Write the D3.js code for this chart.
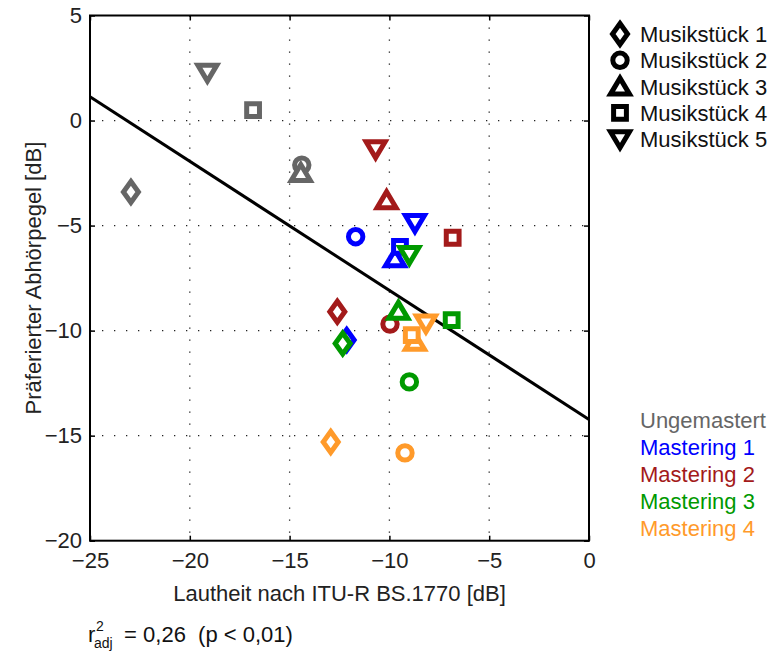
<!DOCTYPE html>
<html>
<head>
<meta charset="utf-8">
<script src="https://cdn.jsdelivr.net/npm/d3@7"></script>
<style>
  html, body { margin: 0; padding: 0; background: #fff; }
  svg text { font-family: "Liberation Sans", Arial, Helvetica, sans-serif; }
</style>
</head>
<body>
<svg id="chart" width="773" height="651"></svg>
<script>
// ---------- data ----------
const pieces = ["Musikstück 1", "Musikstück 2", "Musikstück 3", "Musikstück 4", "Musikstück 5"];
const pieceShapes = ["diamond", "circle", "triangleUp", "square", "triangleDown"];
const masterings = ["Ungemastert", "Mastering 1", "Mastering 2", "Mastering 3", "Mastering 4"];
const masteringColors = ["#666666", "#0000ff", "#a31a1a", "#009900", "#ff9a2a"];

// loudness (x, dB) per mastering, one value per piece (1..5)
const loudUngemastert = [-22.95, -14.39, -14.44, -16.83, -19.12];
const loudMastering1  = [-12.14, -11.69,  -9.72,  -9.47,  -8.72];
const loudMastering2  = [-12.61,  -9.97, -10.14,  -6.83, -10.69];
const loudMastering3  = [-12.34,  -9.00,  -9.55,  -6.88,  -9.00];
const loudMastering4  = [-12.94,  -9.22,  -8.72,  -8.88,  -8.17];

// preferred listening level (y, dB)
const prefUngemastert = [-3.40, -2.12, -2.50,  0.50,  2.28];
const prefMastering1  = [-10.45, -5.53, -6.56, -6.01, -4.88];
const prefMastering2  = [-9.10, -9.69, -3.79, -5.58, -1.37];
const prefMastering3  = [-10.61, -12.44, -9.06, -9.50, -6.40];
const prefMastering4  = [-15.30, -15.82, -10.53, -10.21, -9.66];

const loudSeries = [loudUngemastert, loudMastering1, loudMastering2, loudMastering3, loudMastering4];
const prefSeries = [prefUngemastert, prefMastering1, prefMastering2, prefMastering3, prefMastering4];

// regression line endpoints (x, y)
const regX = [-25, 0];
const regY = [1.13, -14.23];

const xTicks = [-25, -20, -15, -10, -5, 0];
const yTicks = [5, 0, -5, -10, -15, -20];
const xLabel = "Lautheit nach ITU-R BS.1770 [dB]";
const yLabel = "Präferierter Abhörpegel [dB]";

// ---------- layout ----------
const svg = d3.select("#chart");
const L = 90, R = 589, T = 15.5, B = 540.7;
const FS = 22;
const x = d3.scaleLinear().domain([-25, 0]).range([L, R]);
const y = d3.scaleLinear().domain([-20, 5]).range([B, T]);
const fmt = d => (d < 0 ? "\u2212" + Math.abs(d) : String(d));

// grid
const grid = svg.append("g");
xTicks.filter(d => d > -25 && d < 0).forEach(d => {
  grid.append("line").attr("x1", x(d)).attr("x2", x(d)).attr("y1", T).attr("y2", B)
    .attr("stroke", "#222").attr("stroke-width", 1.3).attr("stroke-dasharray", "1.3,10.7");
});
yTicks.filter(d => d > -20 && d < 5).forEach(d => {
  grid.append("line").attr("x1", L).attr("x2", R).attr("y1", y(d)).attr("y2", y(d))
    .attr("stroke", "#222").attr("stroke-width", 1.3).attr("stroke-dasharray", "1.3,10.7");
});

// axes
function styleAxis(g) {
  g.select(".domain").remove();
  g.selectAll(".tick line").attr("stroke", "#000").attr("stroke-width", 1.5);
  g.selectAll(".tick text").attr("font-size", FS).attr("fill", "#222")
   .attr("font-family", "'Liberation Sans', Arial, sans-serif");
}
svg.append("g").attr("transform", `translate(0,${B})`)
  .call(d3.axisBottom(x).tickValues(xTicks).tickFormat(fmt).tickSize(-5).tickPadding(12))
  .call(styleAxis);
svg.append("g").attr("transform", `translate(${L},0)`)
  .call(d3.axisLeft(y).tickValues(yTicks).tickFormat(fmt).tickSize(-5).tickPadding(8))
  .call(styleAxis);
svg.append("g").attr("transform", `translate(0,${T})`)
  .call(d3.axisTop(x).tickValues(xTicks).tickFormat("").tickSize(-5))
  .call(styleAxis);
svg.append("g").attr("transform", `translate(${R},0)`)
  .call(d3.axisRight(y).tickValues(yTicks).tickFormat("").tickSize(-5))
  .call(styleAxis);

// box
svg.append("rect").attr("x", L).attr("y", T).attr("width", R - L).attr("height", B - T)
  .attr("fill", "none").attr("stroke", "#000").attr("stroke-width", 2);

// regression line
svg.append("line")
  .attr("x1", x(regX[0])).attr("y1", y(regY[0]))
  .attr("x2", x(regX[1])).attr("y2", y(regY[1]))
  .attr("stroke", "#000").attr("stroke-width", 3);

// markers
function shapePath(shape) {
  switch (shape) {
    case "diamond": return "M0,-10.5L7.5,0L0,10.5L-7.5,0Z";
    case "circle": return "M7.2,0A7.2,7.2 0 1,1 -7.2,0A7.2,7.2 0 1,1 7.2,0Z";
    case "triangleUp": return "M0,-8.5L9.5,7.5L-9.5,7.5Z";
    case "square": return "M-6.4,-6.4H6.4V6.4H-6.4Z";
    case "triangleDown": return "M0,8.5L9.5,-7.5L-9.5,-7.5Z";
  }
}
const marks = svg.append("g");
masterings.forEach((m, mi) => {
  pieces.forEach((p, pi) => {
    marks.append("path")
      .attr("d", shapePath(pieceShapes[pi]))
      .attr("transform", `translate(${x(loudSeries[mi][pi])},${y(prefSeries[mi][pi])})`)
      .attr("fill", "#fff").attr("stroke", masteringColors[mi])
      .attr("stroke-width", 5).attr("stroke-linejoin", "miter");
  });
});

// axis labels
svg.append("text").attr("x", (L + R) / 2).attr("y", 601).attr("text-anchor", "middle")
  .attr("font-size", FS).attr("fill", "#222").text(xLabel);
svg.append("text").attr("transform", `translate(41,${(T + B) / 2}) rotate(-90)`)
  .attr("text-anchor", "middle").attr("font-size", FS).attr("fill", "#222").text(yLabel);

// legend: shapes
const leg1 = svg.append("g");
pieces.forEach((p, i) => {
  const cy = 34 + i * 26.3;
  leg1.append("path").attr("d", shapePath(pieceShapes[i]))
    .attr("transform", `translate(620,${cy})`)
    .attr("fill", "#fff").attr("stroke", "#000").attr("stroke-width", 5);
  leg1.append("text").attr("x", 640).attr("y", cy).attr("dy", "0.36em")
    .attr("font-size", FS).attr("fill", "#111").text(p);
});

// legend: colors
const leg2 = svg.append("g");
masterings.forEach((m, i) => {
  const cy = 420 + i * 27;
  leg2.append("text").attr("x", 640).attr("y", cy).attr("dy", "0.36em")
    .attr("font-size", FS).attr("fill", masteringColors[i]).text(m);
});

// statistics text
const st = svg.append("g").attr("fill", "#111");
st.append("text").attr("x", 88).attr("y", 642).attr("font-size", FS).text("r");
st.append("text").attr("x", 96).attr("y", 631).attr("font-size", 14).text("2");
st.append("text").attr("x", 94).attr("y", 648).attr("font-size", 14).text("adj");
st.append("text").attr("x", 118).attr("y", 642).attr("font-size", FS)
  .attr("xml:space", "preserve").style("white-space", "pre")
  .text(" = 0,26  (p < 0,01)");
</script>
</body>
</html>
